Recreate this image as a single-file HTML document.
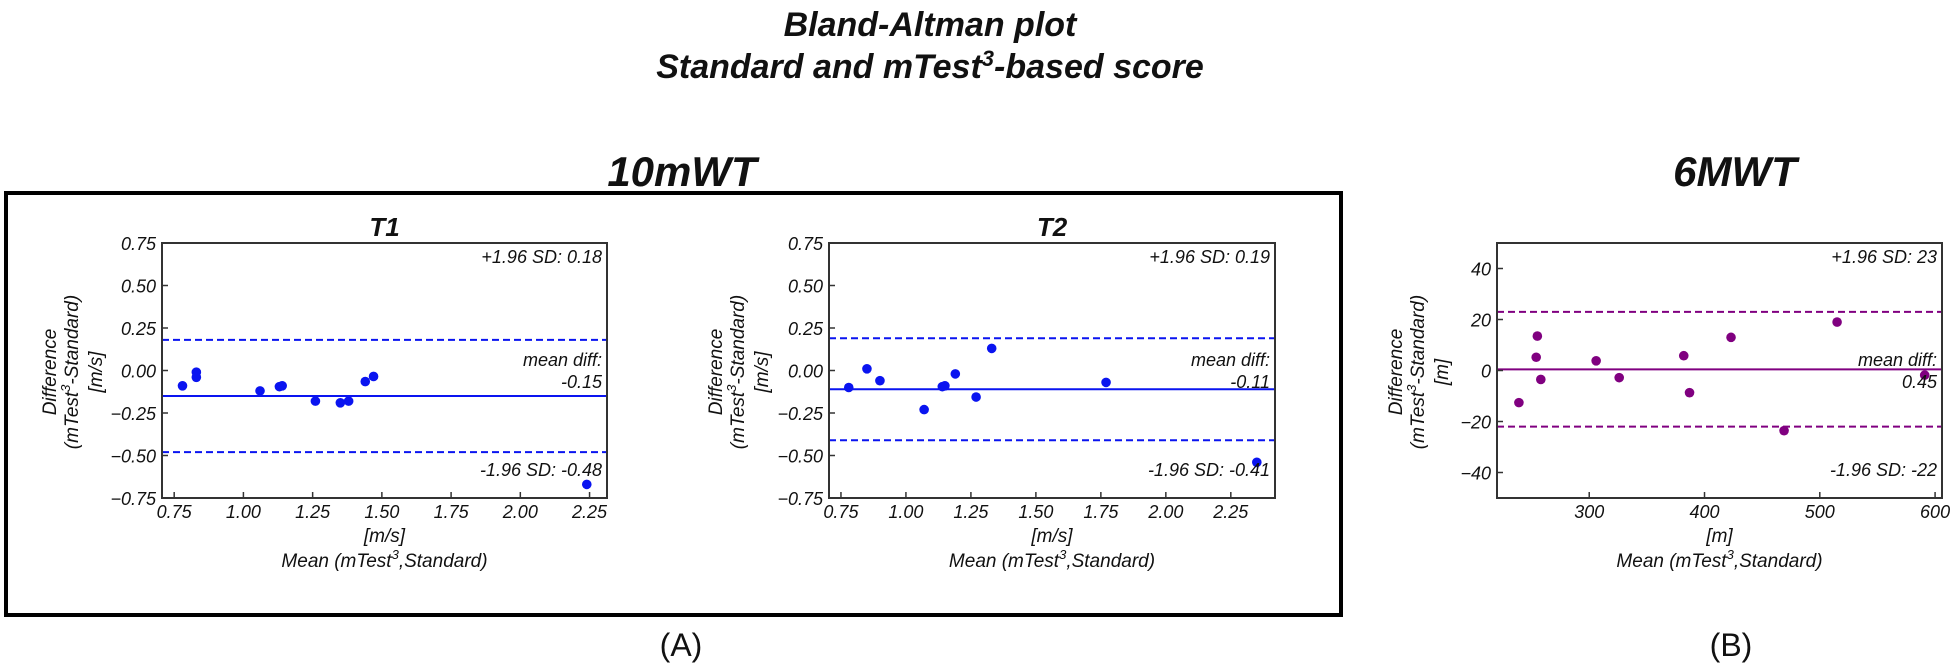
<!DOCTYPE html>
<html><head><meta charset="utf-8"><style>
html,body{margin:0;padding:0;background:#fff;}
svg{display:block;font-family:"Liberation Sans",sans-serif;}
text{font-style:italic;fill:#111;}
</style></head><body>
<svg id="fig" width="1955" height="665" viewBox="0 0 1955 665" xmlns="http://www.w3.org/2000/svg">
<text x="930" y="36" text-anchor="middle" font-size="34" font-weight="bold">Bland-Altman plot</text>
<text x="930" y="78" text-anchor="middle" font-size="34" font-weight="bold">Standard and mTest<tspan dy="-12" font-size="22">3</tspan><tspan dy="12">-based score</tspan></text>
<text x="682" y="186" text-anchor="middle" font-size="42" font-weight="bold">10mWT</text>
<text x="1735" y="186" text-anchor="middle" font-size="42" font-weight="bold">6MWT</text>
<rect x="6" y="193" width="1335" height="422" fill="none" stroke="#000" stroke-width="4"/>
<text x="681" y="656" text-anchor="middle" font-size="32" style="font-style:normal">(A)</text>
<text x="1731" y="656" text-anchor="middle" font-size="32" style="font-style:normal">(B)</text>
<g id="plots"></g>
</svg>
<script>
// T1 data
const t1Mean = [0.78, 0.83, 0.83, 1.06, 1.13, 1.14, 1.26, 1.35, 1.38, 1.44, 1.47, 2.24];
const t1Diff = [-0.09, -0.01, -0.04, -0.12, -0.095, -0.09, -0.18, -0.19, -0.18, -0.065, -0.035, -0.67];
const t1Lines = [0.18, -0.15, -0.48];
// T2 data
const t2Mean = [0.78, 0.85, 0.90, 1.07, 1.14, 1.15, 1.19, 1.27, 1.33, 1.77, 2.35];
const t2Diff = [-0.10, 0.01, -0.06, -0.23, -0.095, -0.09, -0.02, -0.156, 0.13, -0.07, -0.54];
const t2Lines = [0.19, -0.11, -0.41];
// 6MWT data
const sixMean = [239, 255, 254, 258, 306, 326, 382, 387, 423, 469, 515, 591];
const sixDiff = [-12.6, 13.5, 5.2, -3.5, 3.8, -2.8, 5.8, -8.7, 13, -23.6, 19, -1.8];
const sixLines = [23, 0.45, -22];
const speedTicks = [0.75, 1.00, 1.25, 1.50, 1.75, 2.00, 2.25];
const speedYTicks = [0.75, 0.50, 0.25, 0.00, -0.25, -0.50, -0.75];
const sixXTicks = [300, 400, 500, 600];
const sixYTicks = [40, 20, 0, -20, -40];
const t1Labels = ["+1.96 SD: 0.18", "-0.15", "-1.96 SD: -0.48"];
const t2Labels = ["+1.96 SD: 0.19", "-0.11", "-1.96 SD: -0.41"];
const sixLabels = ["+1.96 SD: 23", "0.45", "-1.96 SD: -22"];

const NS = "http://www.w3.org/2000/svg";
const root = document.getElementById('plots');
function mk(tag, attrs, parent, txt){
  const e = document.createElementNS(NS, tag);
  for (const k in attrs) e.setAttribute(k, attrs[k]);
  if (txt !== undefined) e.textContent = txt;
  (parent || root).appendChild(e);
  return e;
}

function drawPlot(cfg){
  const g = mk('g', {});
  
  
  const L = cfg.left, R = cfg.right, T = 243, B = 498;
  const sx = v => L + (v - cfg.xmin) / (cfg.xmax - cfg.xmin) * (R - L);
  const sy = v => B - (v - cfg.ymin) / (cfg.ymax - cfg.ymin) * (B - T);
  cfg.lines.forEach((v, i) => {
    const ln = mk('line', {x1: L, x2: R, y1: sy(v), y2: sy(v), stroke: cfg.color, 'stroke-width': 2, 'stroke-dasharray': i === 1 ? 'none' : '7,4'}, g);
    
    
  });
  cfg.xs.forEach((x, i) => {
    const c = mk('circle', {cx: sx(x), cy: sy(cfg.ys[i]), r: 4.8, fill: cfg.color}, g);
    
    
  });
  const fr = mk('rect', {x: L, y: T, width: R - L, height: B - T, fill: 'none', stroke: '#333', 'stroke-width': 2}, g);
  
  
  cfg.xticks.forEach(v => {
    mk('line', {x1: sx(v), x2: sx(v), y1: B, y2: B - 6, stroke: '#333', 'stroke-width': 1.5}, g);
    const t = mk('text', {x: sx(v), y: B + 20, 'text-anchor': 'middle', 'font-size': 18}, g, cfg.xfmt(v));
    
    
  });
  cfg.yticks.forEach(v => {
    mk('line', {x1: L, x2: L + 6, y1: sy(v), y2: sy(v), stroke: '#333', 'stroke-width': 1.5}, g);
    const t = mk('text', {x: L - 6, y: sy(v) + 7, 'text-anchor': 'end', 'font-size': 18}, g, cfg.yfmt(v));
    
    
  });
  const a1 = mk('text', {x: R - 5, y: 263, 'text-anchor': 'end', 'font-size': 18}, g, cfg.labels[0]);
  
  
  const a2 = mk('text', {x: R - 5, y: 366, 'text-anchor': 'end', 'font-size': 18}, g, 'mean diff:');
  
  
  const a3 = mk('text', {x: R - 5, y: 388, 'text-anchor': 'end', 'font-size': 18}, g, cfg.labels[1]);
  
  
  const a4 = mk('text', {x: R - 5, y: 476, 'text-anchor': 'end', 'font-size': 18}, g, cfg.labels[2]);
  
  
  const cx = (L + R) / 2;
  const xu = mk('text', {x: cx, y: 542, 'text-anchor': 'middle', 'font-size': 19}, g, cfg.unit);
  
  
  const xt = mk('text', {x: cx, y: 567, 'text-anchor': 'middle', 'font-size': 19}, g);
  xt.innerHTML = 'Mean (mTest<tspan dy="-8" font-size="13">3</tspan><tspan dy="8">,Standard)</tspan>';
  
  
  const yl = mk('text', {transform: `translate(${cfg.ylx},372) rotate(-90)`, 'text-anchor': 'middle', 'font-size': 19}, g);
  yl.innerHTML = `<tspan x="0" dy="0">Difference</tspan><tspan x="0" dy="22">(mTest<tspan dy="-8" font-size="13">3</tspan><tspan dy="8">-Standard)</tspan></tspan><tspan x="0" dy="24">${cfg.unit}</tspan>`;
  
  
  if (cfg.title) {
    const tt = mk('text', {x: cx, y: 236, 'text-anchor': 'middle', 'font-size': 26, 'font-weight': 'bold'}, g, cfg.title);
    
    
  }
}
const f2 = v => v.toFixed(2).replace('-', '\u2212');
const f0 = v => String(v).replace('-', '\u2212');
drawPlot({name: 't1-plot', title: 'T1', left: 162, right: 607, xmin: 0.706, xmax: 2.313, ymin: -0.75, ymax: 0.75,
  xs: t1Mean, ys: t1Diff, lines: t1Lines, labels: t1Labels, color: '#0a14f0', xticks: speedTicks, yticks: speedYTicks,
  xfmt: f2, yfmt: f2, unit: '[m/s]', ylx: 56});
drawPlot({name: 't2-plot', title: 'T2', left: 829, right: 1275, xmin: 0.704, xmax: 2.42, ymin: -0.75, ymax: 0.75,
  xs: t2Mean, ys: t2Diff, lines: t2Lines, labels: t2Labels, color: '#0a14f0', xticks: speedTicks, yticks: speedYTicks,
  xfmt: f2, yfmt: f2, unit: '[m/s]', ylx: 722});
drawPlot({name: 'six-mwt-plot', title: '', left: 1497, right: 1942, xmin: 220, xmax: 606, ymin: -50, ymax: 50,
  xs: sixMean, ys: sixDiff, lines: sixLines, labels: sixLabels, color: '#800080', xticks: sixXTicks, yticks: sixYTicks,
  xfmt: f0, yfmt: f0, unit: '[m]', ylx: 1402});
</script>
</body></html>
